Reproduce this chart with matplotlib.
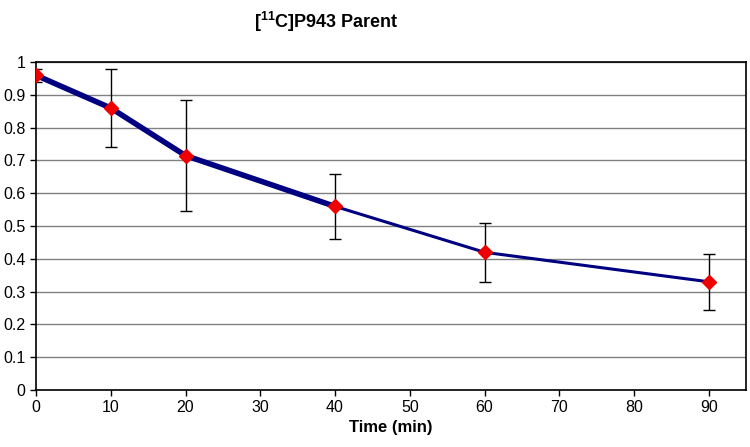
import matplotlib.pyplot as plt

plt.rcParams['font.family'] = ['Liberation Sans', 'DejaVu Sans']
plt.rcParams['mathtext.fontset'] = 'custom'
plt.rcParams['mathtext.rm'] = 'Liberation Sans:bold'
plt.rcParams['mathtext.bf'] = 'Liberation Sans:bold'

# 数据
time_min = [0, 10, 20, 40, 60, 90]
parent = [0.96, 0.86, 0.715, 0.56, 0.42, 0.33]
err = [0.02, 0.12, 0.17, 0.10, 0.09, 0.085]

fig = plt.figure(figsize=(7.5, 4.47), dpi=100)
ax = fig.add_axes([0.048, 0.1275, 0.947, 0.7335])

# 误差线
ax.errorbar(time_min, parent, yerr=err, fmt='none', ecolor='black',
            elinewidth=1, capsize=4.5, capthick=1, zorder=2)

# 折线 (前段较粗)
ax.plot(time_min[:4], parent[:4], color='#000080', linewidth=4, zorder=3)
ax.plot(time_min, parent, color='#000080', linewidth=2.2, zorder=3)
ax.plot(time_min, parent, linestyle='none', marker='D', markersize=7.5,
        color='#ee0000', markeredgecolor='#ee0000', zorder=4)

ax.set_xlim(0, 95)
ax.set_ylim(0, 1)
ax.set_xticks(range(0, 100, 10))
ax.set_yticks([i / 10 for i in range(11)])
ax.set_yticklabels(['0', '0.1', '0.2', '0.3', '0.4', '0.5', '0.6', '0.7', '0.8', '0.9', '1'])
ax.tick_params(direction='out', length=4, width=1, labelsize=11.5, colors='black')
ax.yaxis.grid(True, color='#808080', linewidth=1)
ax.set_axisbelow(True)
for s in ax.spines.values():
    s.set_linewidth(1.2)
    s.set_color('black')

ax.set_xlabel('Time (min)', fontsize=12, fontweight='bold', labelpad=3)
fig.text(0.435, 0.952, r'[$^{11}$C]P943 Parent', fontsize=13, fontweight='bold',
         ha='center', va='center')

fig.savefig('out.png', dpi=100)
